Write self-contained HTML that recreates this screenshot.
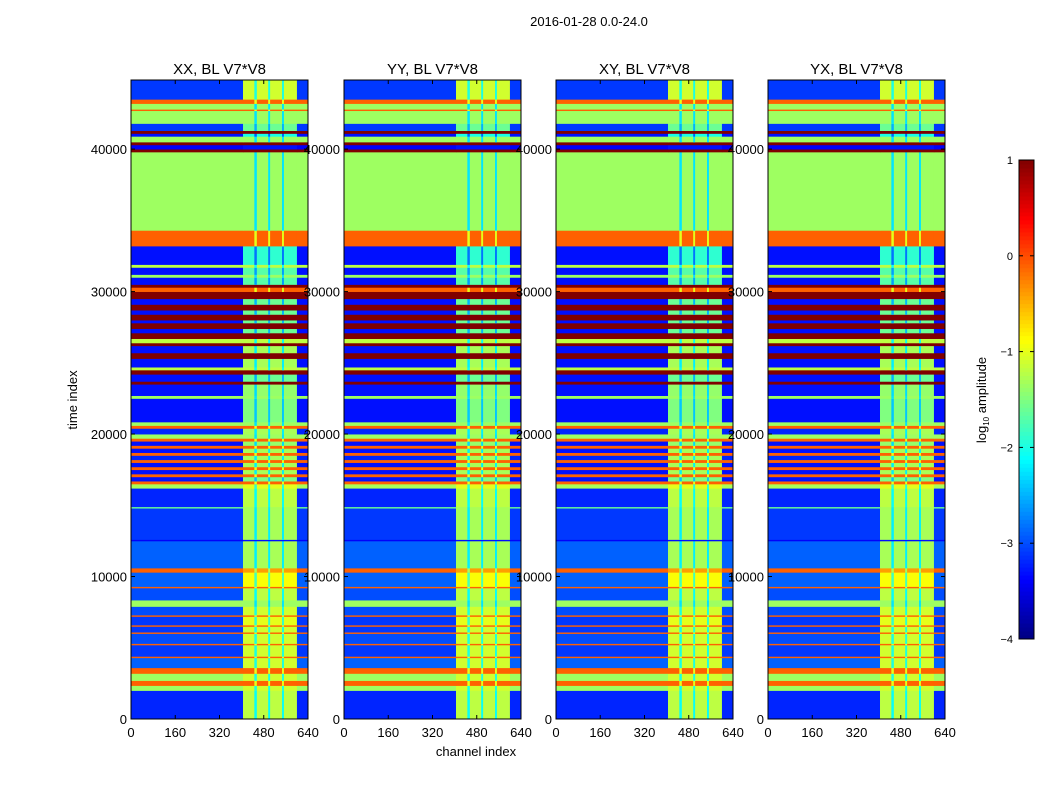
<!DOCTYPE html>
<html><head><meta charset="utf-8">
<style>
body{margin:0;background:#fff;}
svg{display:block;font-family:"Liberation Sans",sans-serif;}
</style></head>
<body>
<svg id="chart" width="1050" height="800" viewBox="0 0 1050 800" xmlns="http://www.w3.org/2000/svg">
<text x="589" y="26" font-size="13" text-anchor="middle">2016-01-28 0.0-24.0</text>
<text x="476" y="756" font-size="13" text-anchor="middle">channel index</text>
<text transform="translate(77,400) rotate(-90)" font-size="13" text-anchor="middle">time index</text>
<text transform="translate(986,400) rotate(-90)" font-size="13" text-anchor="middle">log<tspan font-size="8" dy="3">10</tspan><tspan dy="-3"> amplitude</tspan></text>
<g id="panels"></g>
<g id="cbar"></g>
</svg>
<script>
const panelTitles = ["XX, BL V7*V8","YY, BL V7*V8","XY, BL V7*V8","YX, BL V7*V8"];
const xTicks = [0,160,320,480,640];
const yTicks = [0,10000,20000,30000,40000];
const cbTicks = [1,0,-1,-2,-3,-4];
const bandStart = [0,2000,2350,2700,3200,3600,4300,4400,5200,5300,6000,6100,6500,6600,7200,7300,7900,8350,9200,9300,10300,10600,12500,12600,14800,14900,16200,16500,16700,17000,17200,17500,17700,18000,18200,18500,18700,19000,19200,19500,19700,20000,20400,20600,20850,22500,22700,23500,23700,24200,24500,24700,25300,25700,26200,26400,26700,27100,27400,27800,28000,28400,28700,29100,29500,30000,30300,30500,31000,31200,31700,31900,33200,34300,39800,40000,40300,40500,40900,41100,41300,41800,42700,42800,43200,43500];
const bandEnd = bandStart.slice(1).concat([44850]);
const bandLow = [-3.2,-1.35,-0.1,-1.35,-0.1,-2.9,-0.1,-3.1,-0.1,-3.0,-0.1,-3.1,-0.1,-3.1,-0.1,-3.0,-1.35,-3.0,-0.1,-2.9,-0.1,-2.9,-3.4,-3.1,-1.6,-3.2,-1.3,-0.1,-3.3,-0.1,-3.3,-0.1,-3.3,-0.1,-3.2,-0.1,-3.3,-0.1,-3.3,-0.1,-1.35,-3.2,-0.1,-1.35,-3.3,-1.35,-3.3,1.0,-3.3,1.0,-1.2,-3.3,1.0,-3.3,1.0,-1.2,1.0,-3.3,1.0,-3.3,1.0,-3.3,1.0,-3.3,1.0,-0.1,1.0,-3.3,-1.35,-3.3,-1.2,-3.3,-0.1,-1.35,1.0,-3.4,1.0,-1.35,-3.3,1.0,-3.1,-1.35,-0.1,-1.35,-0.1,-3.1];
const bandHigh = [-1.2,-1.1,-0.1,-1.1,-0.1,-1.1,-0.1,-1.1,-0.1,-1.1,-0.1,-1.1,-0.1,-1.0,-0.1,-1.1,-1.35,-1.2,-0.1,-0.9,-0.4,-1.3,-3.3,-1.3,-1.3,-1.2,-1.0,-0.1,-1.5,-0.1,-1.3,-0.1,-1.3,-0.1,-1.3,-0.1,-1.3,-0.1,-1.4,-0.1,-1.35,-1.3,-0.1,-1.35,-1.5,-1.35,-1.4,1.0,-1.6,1.0,-1.2,-1.3,1.0,-1.3,1.0,-1.2,1.0,-1.6,1.0,-1.6,1.0,-1.6,1.0,-1.6,1.0,-0.1,1.0,-1.7,-1.35,-1.7,-1.2,-1.9,-0.1,-1.35,1.0,-3.3,1.0,-1.35,-2.0,1.0,-1.6,-1.35,-0.1,-1.35,-0.1,-1.1];
const highRange = [405,600];
const stripeStart = [446,496,546];
const stripeEnd = [455,503,553];
const stripeDrop = 0.9;
const panelX = [131,344,556,768];
const PW = 177, PY0 = 80, PY1 = 719, TMAX = 44850;
const NS = "http://www.w3.org/2000/svg";

function jet(v){
  let x = Math.max(0, Math.min(1, (v + 4) / 5));
  const c = k => Math.round(255 * Math.max(0, Math.min(1, 1.5 - Math.abs(4 * x - k))));
  return `rgb(${c(3)},${c(2)},${c(1)})`;
}
function mk(tag, attrs, parent){
  const e = document.createElementNS(NS, tag);
  for (const k in attrs) e.setAttribute(k, attrs[k]);
  parent.appendChild(e);
  return e;
}
const panels = document.getElementById('panels');
panelTitles.forEach((title, p) => {
  const x0 = panelX[p];
  const xS = c => x0 + c / 640 * PW;
  const yS = t => PY1 - t / TMAX * (PY1 - PY0);
  const g = mk('g', {}, panels);
  
  
  bandStart.forEach((t0, i) => {
    const t1 = bandEnd[i];
    const y = yS(t1), h = yS(t0) - yS(t1) + 0.4;
    const segs = [[0, highRange[0], bandLow[i]], [highRange[0], highRange[1], bandHigh[i]], [highRange[1], 640, bandLow[i]]];
    segs.forEach(s => {
      const r = mk('rect', {x: xS(s[0]), y: y, width: xS(s[1]) - xS(s[0]) + 0.3, height: h, fill: jet(s[2])}, g);
      
      
    });
    if (bandHigh[i] < 0.5 && bandHigh[i] > -2.5) {
      stripeStart.forEach((c0, k) => {
        const r = mk('rect', {x: xS(c0), y: y, width: xS(stripeEnd[k]) - xS(c0), height: h, fill: jet(bandHigh[i] - stripeDrop)}, g);
        
        
      });
    }
  });
  const fr = mk('rect', {x: x0, y: PY0, width: PW, height: PY1 - PY0, fill: 'none', stroke: '#000', 'stroke-width': 1}, g);
  
  
  const tt = mk('text', {x: x0 + PW / 2, y: 74, 'font-size': 15, 'text-anchor': 'middle'}, g);
  tt.textContent = title;
  
  
  xTicks.forEach(c => {
    mk('line', {x1: xS(c), x2: xS(c), y1: PY1, y2: PY1 - 4, stroke: '#000'}, g);
    mk('line', {x1: xS(c), x2: xS(c), y1: PY0, y2: PY0 + 4, stroke: '#000'}, g);
    const t = mk('text', {x: xS(c), y: PY1 + 18, 'font-size': 13, 'text-anchor': 'middle'}, g);
    t.textContent = c;
    
    
  });
  yTicks.forEach(v => {
    mk('line', {x1: x0, x2: x0 + 4, y1: yS(v), y2: yS(v), stroke: '#000'}, g);
    mk('line', {x1: x0 + PW, x2: x0 + PW - 4, y1: yS(v), y2: yS(v), stroke: '#000'}, g);
    const t = mk('text', {x: x0 - 4, y: yS(v) + 5, 'font-size': 13, 'text-anchor': 'end'}, g);
    t.textContent = v;
    
    
  });
});
const cb = document.getElementById('cbar');
const CX = 1019, CW = 15, CY0 = 160, CY1 = 639;
const cyS = v => CY1 - (v + 4) / 5 * (CY1 - CY0);
for (let i = 0; i < 120; i++) {
  const v0 = -4 + i * 5 / 120, v1 = v0 + 5 / 120;
  mk('rect', {x: CX, y: cyS(v1), width: CW, height: cyS(v0) - cyS(v1) + 0.5, fill: jet((v0 + v1) / 2)}, cb);
}
const cbf = mk('rect', {x: CX, y: CY0, width: CW, height: CY1 - CY0, fill: 'none', stroke: '#000'}, cb);


cbTicks.forEach(v => {
  mk('line', {x1: CX, x2: CX + 4, y1: cyS(v), y2: cyS(v), stroke: '#000'}, cb);
  mk('line', {x1: CX + CW, x2: CX + CW - 4, y1: cyS(v), y2: cyS(v), stroke: '#000'}, cb);
  const t = mk('text', {x: 1013, y: cyS(v) + 4, 'font-size': 11, 'text-anchor': 'end'}, cb);
  t.textContent = v < 0 ? '\u2212' + Math.abs(v) : v;
  
  
});
</script>
</body></html>
